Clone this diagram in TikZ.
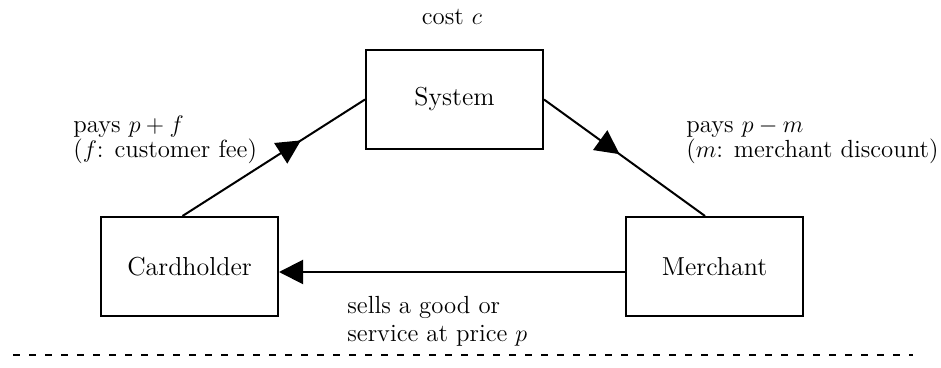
\documentclass[tikz,border=0pt]{standalone}
\usetikzlibrary{arrows.meta,decorations.markings}
\begin{document}
\begin{tikzpicture}[x=0.5pt,y=-0.5pt,
  >={Triangle[length=12pt,width=12pt]},
  box/.style={draw,line width=1pt,minimum width=88.5pt,minimum height=49.5pt,inner sep=0pt,font=\fontsize{13}{15}\selectfont},
  lbl/.style={anchor=base west,inner sep=0pt,font=\fontsize{12.4}{14}\selectfont},
  conn/.style={line width=1pt},
  midarrow/.style={postaction={decorate},decoration={markings,mark=at position #1 with {\arrow{>}}}}]
\useasboundingbox (0,0) rectangle (941,368);
\node[box] (s) at (454.5,99.5) {System};
\node[box] (c) at (189.5,266.5) {Cardholder};
\node[box] (m) at (714.5,266.5) {Merchant};
\coordinate (c1) at ([xshift=-3.5pt]c.north);
\coordinate (m1) at ([xshift=-4.75pt]m.north);
\coordinate (h1) at ([yshift=-2.75pt]m.west);
\coordinate (h2) at ([yshift=-2.75pt]c.east);
\draw[conn,midarrow=0.65] (c1) -- (s.west);
\draw[conn,midarrow=0.47] (s.east) -- (m1);
\draw[conn,->] (h1) -- (h2);
\node[lbl,anchor=base] (cost) at (452,25) {cost $c$};
\node[lbl] (l1) at (73,133) {pays $p+f$};
\node[lbl] (l2) at (73,158) {($f$: customer fee)};
\node[lbl] (r1) at (686,133) {pays $p-m$};
\node[lbl] (r2) at (686,158) {($m$: merchant discount)};
\node[lbl] (b1) at (347,314) {sells a good or};
\node[lbl] (b2) at (347,342) {service at price $p$};
\coordinate (d1) at (13,355);
\coordinate (d2) at (913,355);
\draw[line width=1.2pt,dash pattern=on 3.5pt off 4.5pt] (d1) -- (d2);
\end{tikzpicture}
\end{document}
